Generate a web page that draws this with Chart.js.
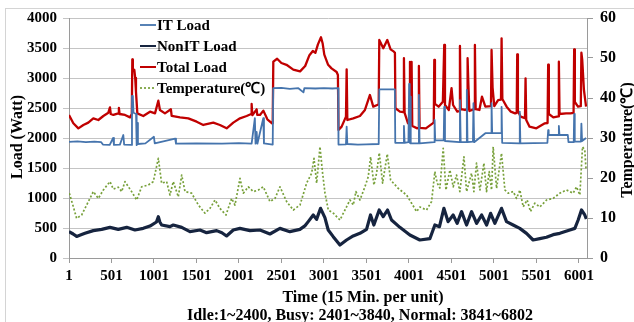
<!DOCTYPE html>
<html>
<head>
<meta charset="utf-8">
<script src="https://cdn.jsdelivr.net/npm/chart.js"></script>
<style>
html, body { margin: 0; padding: 0; background: #fff; }
#wrap { position: relative; width: 634px; height: 322px; overflow: hidden; }
#frame { position: absolute; left: 5px; top: 8px; width: 700px; height: 400px; border-left: 1px solid #d4d4d4; border-top: 1px solid #d4d4d4; }
#chart { position: absolute; left: 0; top: 0; }
</style>
</head>
<body>
<div id="wrap">
  <div id="frame"></div>
  <canvas id="chart" width="634" height="322"></canvas>
</div>
<script>
// tick labels on the time axis (15 min per unit)
const timeTicks = [1, 501, 1001, 1501, 2001, 2501, 3001, 3501, 4001, 4501, 5001, 5501, 6001];

// IT Load (Watt)
const itX = [1,100,200,300,380,400,480,520,530,600,640,650,735,742,752,760,790,797,805,812,900,1000,1010,1250,1260,1500,1800,2000,2150,2188,2196,2209,2218,2287,2295,2398,
  2404,2500,2600,2700,2760,2770,2900,3000,3100,3168,3172,3260,3268,3276,3400,3500,3645,3652,3835,3840,
  3935,3942,3950,3995,4003,4010,4014,4022,4112,4118,4126,4296,4303,4310,4410,4416,4425,4595,4601,4610,4675,4682,4690,4754,4760,4768,
  4900,4968,4973,4980,5085,5091,5098,5300,5305,5312,5630,5639,5645,5760,5765,5772,5870,5878,5940,5945,5952,6025,6030,6038,6085];
const itY = [1935,1945,1930,1940,1930,1890,1885,2000,1885,1890,2050,1890,1885,2700,2700,2420,2400,1880,2250,1900,1910,2020,1910,1990,1905,1910,1905,1915,1905,2330,1905,2100,1905,2330,1910,1890,
  2830,2835,2820,2830,2760,2830,2825,2830,2825,2830,1890,1895,2190,1900,1890,1895,1900,2810,2810,1920,
  1920,2200,1920,1930,2900,1920,2690,1910,1910,2720,1910,1930,2300,1960,1960,2520,1950,1930,2630,1930,1930,2800,1930,1940,2580,1930,
  2080,2080,2580,2080,2080,2520,1920,1910,2440,1910,1920,2130,2050,2050,2200,2050,2050,1930,1930,2400,1940,1940,2240,1950,2000];

// NonIT Load (Watt)
const nonItX = [1,50,91,150,189,287,385,483,581,680,777,875,954,1030,1052,1070,1091,1189,1228,1327,1424,1542,1620,1738,1800,1855,1934,2012,2130,2248,2365,2483,2600,2718,2780,2816,2875,2914,2961,3012,
  3051,3110,3189,3267,3345,3424,3502,3549,3588,3651,3698,3749,3796,3894,4012,4129,4247,4306,4360,4412,4462,4521,4568,4620,4679,4738,4797,4856,4915,4962,5012,5090,5149,5227,5305,5384,5462,5541,5619,5698,5776,5894,5953,5992,6031,6070,6088];
const nonItY = [440,400,360,390,411,456,478,511,478,511,467,494,533,600,689,600,550,522,550,511,439,467,422,456,420,367,467,494,456,467,400,494,439,478,540,606,717,644,828,672,
  467,356,217,300,367,411,478,717,550,800,689,800,633,511,383,300,322,550,522,828,606,717,578,772,550,772,578,717,550,744,578,828,606,550,494,411,300,322,345,389,411,467,494,633,800,717,650];

// Total Load (Watt)
const totalX = [1,52,111,170,228,287,346,405,464,483,492,523,581,588,596,660,719,740,746,752,770,780,789,805,875,954,1013,1052,1071,1130,1200,1209,1307,1405,1503,1581,1699,1777,1856,1934,2013,2091,2145,2150,2158,2209,2216,2248,2288,2335,2390,2398,
  2405,2450,2500,2560,2640,2720,2780,2830,2870,2900,2930,2966,2985,3005,3050,3090,3150,3165,3172,3209,3260,3268,3276,3346,3424,3483,3542,3581,3628,3645,3652,3699,3746,3785,3824,3836,3842,
  3895,3935,3942,3950,3990,4007,4013,4020,4026,4032,4040,4100,4112,4118,4126,4200,4280,4293,4299,4307,4350,4400,4416,4425,4470,4502,4520,4570,4595,4601,4610,4660,4685,4691,4700,4712,4770,4777,4786,
  4830,4860,4900,4966,4973,4985,5005,5050,5084,5091,5100,5150,5200,5250,5269,5275,5283,5315,5366,5373,5381,5420,5500,5600,5632,5639,5647,5700,5758,5765,5773,5850,5900,5938,5945,5953,5990,6023,6030,6040,6060,6085];
const totalY = [2384,2245,2161,2217,2256,2328,2300,2367,2422,2511,2400,2384,2411,2500,2400,2384,2344,2400,3311,3150,3133,3000,2772,2411,2367,2439,2411,2622,2467,2411,2478,2367,2344,2328,2272,2217,2256,2217,2161,2256,2328,2367,2400,2567,2380,2478,2384,2384,2456,2311,2245,2260,
  3273,3320,3250,3220,3140,3110,3200,3380,3450,3420,3560,3680,3580,3390,3220,3160,3100,3050,2133,2189,2356,3144,2300,2328,2367,2467,2717,2522,2550,2560,3634,3495,3634,3478,3439,3420,2495,
  2440,2430,3330,2420,2245,2260,3270,2300,2300,3270,2200,2161,2170,3200,2170,2161,2245,2260,3300,2570,2522,2606,3550,2550,2467,2830,2550,2439,2450,3533,2480,2467,2480,3330,2900,2450,2480,3550,2480,
  2467,2689,2522,2530,3467,2840,2530,2633,2640,3661,2650,2522,2439,2411,2420,3394,2450,2356,2330,2994,2300,2189,2161,2245,2250,3222,2400,2344,2360,3272,2400,2411,2411,2420,3478,2600,2522,2530,3422,3300,2800,2522];

// Temperature (deg C)
const tempX = [5,52,91,150,209,287,346,405,483,523,581,621,660,738,797,856,934,993,1052,1091,1150,1189,1228,1287,1327,1366,1444,1523,1601,1660,1719,1777,1848,1915,1954,2013,2052,2111,2170,2229,2287,2366,2425,2483,2562,2640,2719,2797,2856,2884,2915,
  2954,2985,3013,3052,3111,3189,3248,3307,3346,3377,3424,3483,3522,3550,3589,3620,3652,3691,3746,3785,3875,3973,4032,4091,4130,4208,4267,4306,4334,4365,4404,4436,4483,4522,4561,4600,4648,4679,4738,4765,4796,4836,4883,4914,4945,4973,4992,5032,5090,5130,5169,5228,5267,5306,5345,5392,5431,5482,5541,5620,5698,5776,5855,5933,5972,6012,6043,6070,6085];
const tempY = [16.2,12.8,9.9,10.75,13.25,16.6,14.9,17,19.1,17.2,17.7,16.6,19.1,16.6,14.5,17.8,18.25,19.1,24.9,18.7,19.1,15.75,19.1,15.3,20.75,16.6,16.2,13.25,11.2,12.4,14.5,12.4,10.75,14.9,13.25,19.9,16.2,17.8,16.6,17,17.8,14.1,14.9,17.8,14.1,12,13.25,18.7,21.2,24.9,18.7,
  27.8,21.2,16.2,12,11.2,9.5,12,14.5,13.25,16.6,14.5,17.8,20.3,25.3,18.25,21.2,26.3,18.7,26,19.5,17.4,15.75,13.7,11.6,12.75,12,14.1,21.6,18.7,17.5,27.4,17,22,17.8,20.75,16.6,25.3,16.6,21.2,16.6,23.7,17,23.7,16.6,21.6,17,27.8,17.4,26.2,17,16.2,16.6,14.9,17,12.8,14.5,11.6,13.7,12.75,14.5,14.9,16.2,17,16.2,17.8,15.75,27.8,27,22];

function pts(xs, ys) {
  return xs.map((x, i) => ({ x: x, y: ys[i] }));
}

const FONT = '"Liberation Serif", "Times New Roman", serif';
const plain = (v) => String(v);

// axis titles and the legend, drawn Excel-style
const extraText = {
  id: 'extraText',
  afterDraw(chart) {
    const ctx = chart.ctx;
    const a = chart.chartArea;
    ctx.save();
    ctx.fillStyle = '#000';
    ctx.textBaseline = 'middle';
    ctx.textAlign = 'center';
    ctx.font = 'bold 16px ' + FONT;
    ctx.fillText('Time (15 Min. per unit)', 363, 298);
    ctx.fillText('Idle:1~2400, Busy: 2401~3840, Normal: 3841~6802', 360, 316);

    ctx.save();
    ctx.translate(18, 137);
    ctx.rotate(-Math.PI / 2);
    ctx.fillText('Load (Watt)', 0, 0);
    ctx.restore();

    ctx.save();
    ctx.translate(628, 140);
    ctx.rotate(-Math.PI / 2);
    ctx.fillText('Temperature(\u2103)', 0, 0);
    ctx.restore();

    // legend
    ctx.font = 'bold 15px ' + FONT;
    ctx.textAlign = 'left';
    chart.data.datasets.forEach((ds, i) => {
      const y = a.top + 7 + i * 21;
      ctx.save();
      ctx.strokeStyle = ds.borderColor;
      ctx.lineWidth = Math.min(ds.borderWidth, 2);
      ctx.setLineDash(ds.borderDash || []);
      ctx.beginPath();
      ctx.moveTo(140, y);
      ctx.lineTo(156, y);
      ctx.stroke();
      ctx.restore();
      ctx.fillText(ds.label, 157, y + 1);
    });
    ctx.restore();
  }
};

const config = {
  type: 'line',
  data: {
    datasets: [
      {
        label: 'IT Load',
        data: pts(itX, itY),
        borderColor: '#4574ad',
        borderWidth: 1.8,
        yAxisID: 'y'
      },
      {
        label: 'NonIT Load',
        data: pts(nonItX, nonItY),
        borderColor: '#16243f',
        borderWidth: 3.2,
        yAxisID: 'y'
      },
      {
        label: 'Total Load',
        data: pts(totalX, totalY),
        borderColor: '#c00000',
        borderWidth: 2.3,
        yAxisID: 'y'
      },
      {
        label: 'Temperature(\u2103)',
        data: pts(tempX, tempY),
        borderColor: '#77a03a',
        borderWidth: 1.7,
        borderDash: [2, 2],
        yAxisID: 'y1'
      }
    ]
  },
  options: {
    responsive: false,
    animation: false,
    devicePixelRatio: 1,
    layout: { padding: { top: 18, left: 0, right: 0, bottom: 0 } },
    elements: {
      point: { radius: 0 },
      line: { tension: 0, borderJoinStyle: 'round' }
    },
    plugins: {
      legend: { display: false },
      tooltip: { enabled: false }
    },
    scales: {
      x: {
        type: 'linear',
        min: 1,
        max: 6096,
        afterBuildTicks: (s) => { s.ticks = timeTicks.map(v => ({ value: v })); },
        afterFit: (s) => { s.height = 64; },
        grid: { drawOnChartArea: false, drawTicks: true, tickLength: 5, color: '#9a9a9a' },
        border: { color: '#9a9a9a' },
        ticks: {
          autoSkip: false,
          maxRotation: 0,
          padding: 4,
          color: '#000',
          callback: plain,
          font: { family: FONT, size: 15, weight: 'bold' }
        }
      },
      y: {
        position: 'left',
        min: 0,
        max: 4000,
        afterFit: (s) => { s.width = 69; },
        grid: { color: '#c4c4c4', tickLength: 6 },
        border: { color: '#9a9a9a' },
        ticks: {
          stepSize: 500,
          padding: 6,
          color: '#000',
          callback: plain,
          font: { family: FONT, size: 15, weight: 'bold' }
        }
      },
      y1: {
        position: 'right',
        min: 0,
        max: 60,
        afterFit: (s) => { s.width = 47; },
        grid: { drawOnChartArea: false, tickLength: 6, color: '#9a9a9a' },
        border: { color: '#9a9a9a' },
        ticks: {
          stepSize: 10,
          padding: 7,
          color: '#000',
          callback: plain,
          font: { family: FONT, size: 16, weight: 'bold' }
        }
      }
    }
  },
  plugins: [extraText]
};

const chart = new Chart(document.getElementById('chart'), config);
</script>
</body>
</html>
